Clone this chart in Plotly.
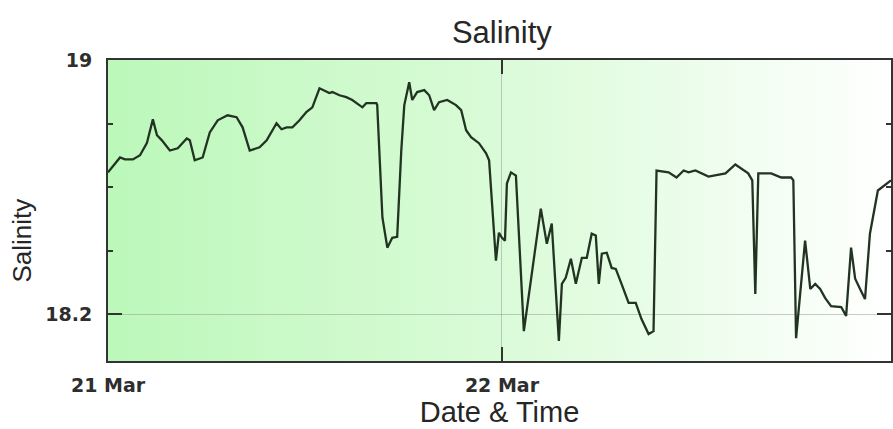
import base64
import plotly.graph_objects as go

# ---- data ----
times = [
    "2012-03-21 00:00", "2012-03-21 00:44", "2012-03-21 01:02", "2012-03-21 01:31", "2012-03-21 01:57",
    "2012-03-21 02:22", "2012-03-21 02:44", "2012-03-21 02:59", "2012-03-21 03:17", "2012-03-21 03:46",
    "2012-03-21 04:15", "2012-03-21 04:48", "2012-03-21 04:59", "2012-03-21 05:17", "2012-03-21 05:46",
    "2012-03-21 06:12", "2012-03-21 06:41", "2012-03-21 07:17", "2012-03-21 07:50", "2012-03-21 08:12",
    "2012-03-21 08:38", "2012-03-21 09:14", "2012-03-21 09:40", "2012-03-21 10:16", "2012-03-21 10:34",
    "2012-03-21 10:53", "2012-03-21 11:14", "2012-03-21 11:40", "2012-03-21 12:05", "2012-03-21 12:27",
    "2012-03-21 12:53", "2012-03-21 13:29", "2012-03-21 13:40", "2012-03-21 14:06", "2012-03-21 14:31",
    "2012-03-21 14:53", "2012-03-21 15:30", "2012-03-21 15:44", "2012-03-21 16:21", "2012-03-21 16:24",
    "2012-03-21 16:43", "2012-03-21 17:01", "2012-03-21 17:19", "2012-03-21 17:37", "2012-03-21 17:52",
    "2012-03-21 18:03", "2012-03-21 18:21", "2012-03-21 18:32", "2012-03-21 18:50", "2012-03-21 19:16",
    "2012-03-21 19:34", "2012-03-21 19:52", "2012-03-21 20:10", "2012-03-21 20:40", "2012-03-21 21:12",
    "2012-03-21 21:31", "2012-03-21 21:49", "2012-03-21 22:07", "2012-03-21 22:36", "2012-03-21 23:02",
    "2012-03-21 23:13", "2012-03-21 23:31", "2012-03-21 23:38", "2012-03-21 23:49", "2012-03-22 00:00",
    "2012-03-22 00:11", "2012-03-22 00:18", "2012-03-22 00:33", "2012-03-22 00:51", "2012-03-22 01:20",
    "2012-03-22 02:22", "2012-03-22 02:44", "2012-03-22 03:02", "2012-03-22 03:28", "2012-03-22 03:39",
    "2012-03-22 03:53", "2012-03-22 04:12", "2012-03-22 04:30", "2012-03-22 04:52", "2012-03-22 05:10",
    "2012-03-22 05:28", "2012-03-22 05:43", "2012-03-22 05:54", "2012-03-22 06:05", "2012-03-22 06:23",
    "2012-03-22 06:41", "2012-03-22 06:56", "2012-03-22 07:17", "2012-03-22 07:43", "2012-03-22 08:09",
    "2012-03-22 08:30", "2012-03-22 08:56", "2012-03-22 09:14", "2012-03-22 09:25", "2012-03-22 10:09",
    "2012-03-22 10:38", "2012-03-22 11:04", "2012-03-22 11:22", "2012-03-22 11:47", "2012-03-22 12:35",
    "2012-03-22 13:37", "2012-03-22 14:13", "2012-03-22 15:00", "2012-03-22 15:15", "2012-03-22 15:26",
    "2012-03-22 15:37", "2012-03-22 16:24", "2012-03-22 17:01", "2012-03-22 17:37", "2012-03-22 17:45",
    "2012-03-22 17:55", "2012-03-22 18:28", "2012-03-22 18:47", "2012-03-22 19:05", "2012-03-22 19:23",
    "2012-03-22 19:41", "2012-03-22 20:03", "2012-03-22 20:40", "2012-03-22 20:58", "2012-03-22 21:16",
    "2012-03-22 21:31", "2012-03-22 21:52", "2012-03-22 22:07", "2012-03-22 22:25", "2012-03-22 22:54",
    "2012-03-22 23:42",
]

salinity = [
    18.646, 18.693, 18.687, 18.687, 18.700, 18.738, 18.813, 18.763, 18.747, 18.715,
    18.722, 18.753, 18.747, 18.684, 18.693, 18.772, 18.810, 18.826, 18.820, 18.788,
    18.715, 18.725, 18.747, 18.801, 18.782, 18.788, 18.788, 18.810, 18.836, 18.851,
    18.911, 18.896, 18.899, 18.889, 18.883, 18.874, 18.851, 18.864, 18.864, 18.858,
    18.504, 18.409, 18.440, 18.443, 18.715, 18.858, 18.930, 18.874, 18.899, 18.905,
    18.889, 18.842, 18.867, 18.874, 18.858, 18.842, 18.779, 18.757, 18.738, 18.706,
    18.684, 18.462, 18.368, 18.456, 18.440, 18.431, 18.611, 18.646, 18.636, 18.146,
    18.532, 18.421, 18.485, 18.115, 18.295, 18.314, 18.374, 18.295, 18.377, 18.377,
    18.453, 18.447, 18.295, 18.390, 18.393, 18.345, 18.342, 18.295, 18.235, 18.235,
    18.184, 18.137, 18.146, 18.652, 18.646, 18.630, 18.652, 18.646, 18.652, 18.633,
    18.643, 18.671, 18.643, 18.621, 18.263, 18.643, 18.643, 18.630, 18.630, 18.621,
    18.124, 18.431, 18.279, 18.295, 18.279, 18.251, 18.225, 18.222, 18.194, 18.409,
    18.311, 18.273, 18.247, 18.453, 18.589, 18.621,
]

x_range = ["2012-03-21 00:00", "2012-03-22 23:42"]
x_tickvals = ["2012-03-21", "2012-03-22"]
x_ticktext = ["21 Mar", "22 Mar"]
y_range = [18.052, 19.0]
y_tickvals = [18.2, 19]
y_ticktext = ["18.2", "19"]

# ---- background gradient (green -> white) as an SVG image ----
svg = (
    '<svg xmlns="http://www.w3.org/2000/svg" width="100" height="100" preserveAspectRatio="none">'
    '<defs><linearGradient id="g" x1="0" y1="0" x2="1" y2="0">'
    '<stop offset="0" stop-color="rgb(188,248,186)"/>'
    '<stop offset="0.5" stop-color="rgb(218,251,216)"/>'
    '<stop offset="1" stop-color="rgb(255,255,255)"/>'
    '</linearGradient></defs>'
    '<rect width="100" height="100" fill="url(#g)"/></svg>'
)
svg_uri = "data:image/svg+xml;base64," + base64.b64encode(svg.encode()).decode()

title_font = "Liberation Sans, Arial, sans-serif"
tick_font = "DejaVu Sans, Verdana, sans-serif"
text_color = "#262626"

fig = go.Figure()
fig.add_trace(go.Scatter(
    x=times, y=salinity, mode="lines",
    line=dict(color="#223322", width=2.3),
    showlegend=False,
))

fig.add_layout_image(dict(
    source=svg_uri, xref="paper", yref="paper", x=0, y=1,
    sizex=1, sizey=1, sizing="stretch", layer="below",
    xanchor="left", yanchor="top",
))

# y-axis title placed as an annotation (it sits below the plot's centre in the reference)
fig.add_annotation(
    text="Salinity", textangle=-90, showarrow=False,
    xref="paper", x=0, xshift=-86, xanchor="center",
    yref="paper", y=0.40, yanchor="middle",
    font=dict(family=title_font, size=26, color=text_color),
)

fig.update_layout(
    width=893, height=429,
    margin=dict(l=108, r=0, t=60, b=68),
    paper_bgcolor="white",
    plot_bgcolor="white",
    font=dict(family=title_font, color=text_color),
    title=dict(text="Salinity", x=0.562, xref="container", xanchor="center",
               y=0.926, yref="container", yanchor="middle",
               font=dict(size=31, color=text_color)),
)

fig.update_xaxes(
    type="date", range=x_range,
    tickmode="array", tickvals=x_tickvals, ticktext=x_ticktext,
    ticks="inside", ticklen=14, tickwidth=2, tickcolor="#333333",
    ticklabelstandoff=6,
    showline=True, linecolor="#333333", linewidth=2, mirror="ticks",
    showgrid=True, gridcolor="rgba(150,150,150,0.5)", gridwidth=1,
    zeroline=False,
    tickfont=dict(family=tick_font, size=19, color="#2e2e2e", weight="bold"),
    title=dict(text="Date & Time", font=dict(size=29, color=text_color), standoff=2),
)

fig.update_yaxes(
    range=y_range,
    tickmode="array", tickvals=y_tickvals, ticktext=y_ticktext,
    ticks="inside", ticklen=14, tickwidth=2, tickcolor="#333333",
    ticklabelstandoff=10,
    minor=dict(dtick=0.2, tick0=0, ticks="inside", ticklen=5, tickwidth=1.5,
               tickcolor="#333333", showgrid=False),
    showline=True, linecolor="#333333", linewidth=2, mirror="ticks",
    showgrid=True, gridcolor="rgba(150,150,150,0.5)", gridwidth=1,
    zeroline=False,
    tickfont=dict(family=tick_font, size=19, color="#2e2e2e", weight="bold"),
)

fig.write_html(
    "out.html",
    config={"responsive": False, "displayModeBar": False},
    post_script=(
        "document.body.style.margin='0';"
        "document.body.style.overflow='hidden';"
        "Plotly.Plots.resize(document.getElementById('{plot_id}'));"
    ),
)
